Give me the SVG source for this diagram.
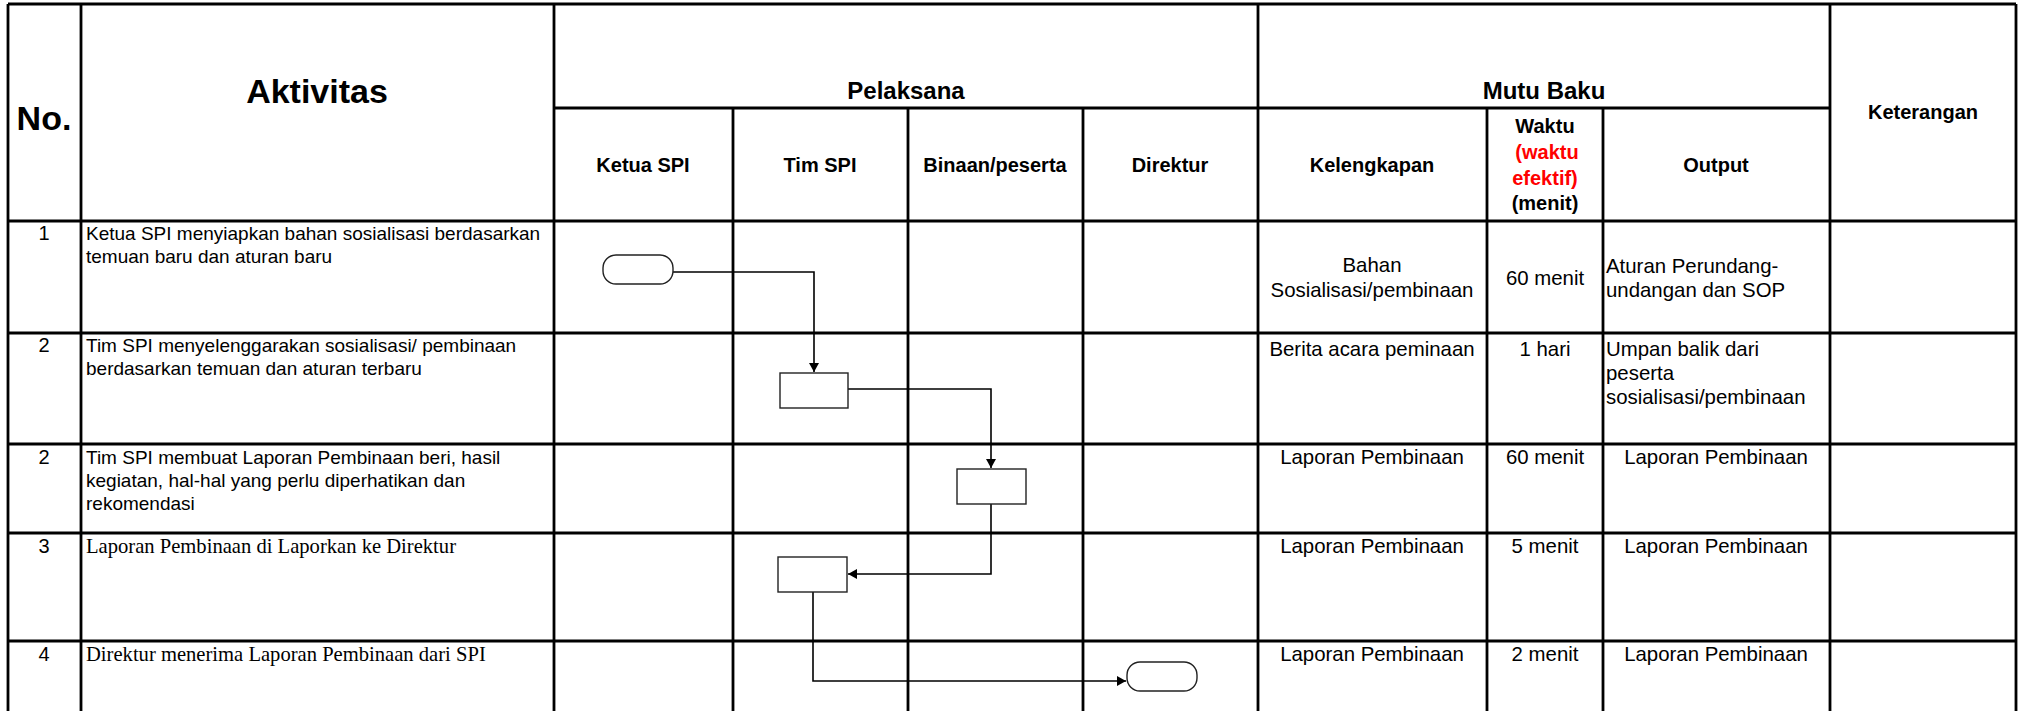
<svg xmlns="http://www.w3.org/2000/svg" width="2019" height="711" viewBox="0 0 2019 711">
<style>
.grid line{stroke:#000;stroke-width:2.8;}
text{font-family:"Liberation Sans",Arial,sans-serif;fill:#000;}
.h1{font-size:34px;font-weight:bold;text-anchor:middle;}
.h2{font-size:24px;font-weight:bold;text-anchor:middle;}
.h3{font-size:20px;font-weight:bold;text-anchor:middle;}
.red{fill:#ff0000;}
.act{font-size:19px;}
.num{font-size:20px;text-anchor:middle;}
.serif{font-family:"Liberation Serif","Times New Roman",serif;font-size:20.6px;}
.mb{font-size:20.4px;}
.c{text-anchor:middle;}
.node{fill:#fff;stroke:#222;stroke-width:1.4;}
.conn path{fill:none;stroke:#000;stroke-width:1.6;marker-end:url(#arr);}
</style>
<defs>
<marker id="arr" markerUnits="userSpaceOnUse" markerWidth="10" markerHeight="10" refX="9" refY="5" orient="auto">
<path d="M0,0 L9,5 L0,10 z" fill="#000"/>
</marker>
</defs>
<rect x="0" y="0" width="2019" height="711" fill="#fff"/>
<g class="grid">
<line x1="8" y1="4" x2="2016" y2="4"/>
<line x1="554" y1="108" x2="1830" y2="108"/>
<line x1="8" y1="221" x2="2016" y2="221"/>
<line x1="8" y1="333" x2="2016" y2="333"/>
<line x1="8" y1="444" x2="2016" y2="444"/>
<line x1="8" y1="533" x2="2016" y2="533"/>
<line x1="8" y1="641" x2="2016" y2="641"/>
<line x1="8" y1="4" x2="8" y2="711"/>
<line x1="81" y1="4" x2="81" y2="711"/>
<line x1="554" y1="4" x2="554" y2="711"/>
<line x1="733" y1="108" x2="733" y2="711"/>
<line x1="908" y1="108" x2="908" y2="711"/>
<line x1="1083" y1="108" x2="1083" y2="711"/>
<line x1="1258" y1="4" x2="1258" y2="711"/>
<line x1="1487" y1="108" x2="1487" y2="711"/>
<line x1="1603" y1="108" x2="1603" y2="711"/>
<line x1="1830" y1="4" x2="1830" y2="711"/>
<line x1="2016" y1="4" x2="2016" y2="711"/>
</g>
<g id="header">
<text class="h1" x="44" y="130">No.</text>
<text class="h1" x="317" y="103">Aktivitas</text>
<text class="h2" x="906" y="99">Pelaksana</text>
<text class="h2" x="1544" y="99">Mutu Baku</text>
<text class="h3" x="1923" y="119">Keterangan</text>
<text class="h3" x="643" y="172">Ketua SPI</text>
<text class="h3" x="820" y="172">Tim SPI</text>
<text class="h3" x="995" y="172">Binaan/peserta</text>
<text class="h3" x="1170" y="172">Direktur</text>
<text class="h3" x="1372" y="172">Kelengkapan</text>
<text class="h3" x="1545" y="133">Waktu</text>
<text class="h3 red" x="1547" y="159">(waktu</text>
<text class="h3 red" x="1545" y="185">efektif)</text>
<text class="h3" x="1545" y="210">(menit)</text>
<text class="h3" x="1716" y="172">Output</text>
</g>
<g id="rows">
<text class="num" x="44" y="240">1</text>
<text class="act" x="86" y="240">Ketua SPI menyiapkan bahan sosialisasi berdasarkan</text>
<text class="act" x="86" y="263">temuan baru dan aturan baru</text>
<text class="mb c" x="1372" y="272">Bahan</text>
<text class="mb c" x="1372" y="297">Sosialisasi/pembinaan</text>
<text class="mb c" x="1545" y="285">60 menit</text>
<text class="mb" x="1606" y="273">Aturan Perundang-</text>
<text class="mb" x="1606" y="297">undangan dan SOP</text>

<text class="num" x="44" y="352">2</text>
<text class="act" x="86" y="352">Tim SPI menyelenggarakan sosialisasi/ pembinaan</text>
<text class="act" x="86" y="375">berdasarkan temuan dan aturan terbaru</text>
<text class="mb c" x="1372" y="356">Berita acara peminaan</text>
<text class="mb c" x="1545" y="356">1 hari</text>
<text class="mb" x="1606" y="356">Umpan balik dari</text>
<text class="mb" x="1606" y="380">peserta</text>
<text class="mb" x="1606" y="404">sosialisasi/pembinaan</text>

<text class="num" x="44" y="464">2</text>
<text class="act" x="86" y="464">Tim SPI membuat Laporan Pembinaan beri, hasil</text>
<text class="act" x="86" y="487">kegiatan, hal-hal yang perlu diperhatikan dan</text>
<text class="act" x="86" y="510">rekomendasi</text>
<text class="mb c" x="1372" y="464">Laporan Pembinaan</text>
<text class="mb c" x="1545" y="464">60 menit</text>
<text class="mb c" x="1716" y="464">Laporan Pembinaan</text>

<text class="num" x="44" y="553">3</text>
<text class="serif" x="86" y="553">Laporan Pembinaan di Laporkan ke Direktur</text>
<text class="mb c" x="1372" y="553">Laporan Pembinaan</text>
<text class="mb c" x="1545" y="553">5 menit</text>
<text class="mb c" x="1716" y="553">Laporan Pembinaan</text>

<text class="num" x="44" y="661">4</text>
<text class="serif" x="86" y="661">Direktur menerima Laporan Pembinaan dari SPI</text>
<text class="mb c" x="1372" y="661">Laporan Pembinaan</text>
<text class="mb c" x="1545" y="661">2 menit</text>
<text class="mb c" x="1716" y="661">Laporan Pembinaan</text>
</g>
<g class="conn" id="connectors">
<path d="M673,272 H814 V372"/>
<path d="M848,389 H991 V468"/>
<path d="M991,504 V574 H848"/>
<path d="M813,592 V681 H1126"/>
</g>
<g id="start"><rect class="node" x="603" y="255" width="70" height="29" rx="13" ry="13"/></g>
<g id="step1"><rect class="node" x="780" y="373" width="68" height="35"/></g>
<g id="step2"><rect class="node" x="957" y="469" width="69" height="35"/></g>
<g id="step3"><rect class="node" x="778" y="557" width="69" height="35"/></g>
<g id="end"><rect class="node" x="1127" y="662" width="70" height="29" rx="13" ry="13"/></g>
</svg>
